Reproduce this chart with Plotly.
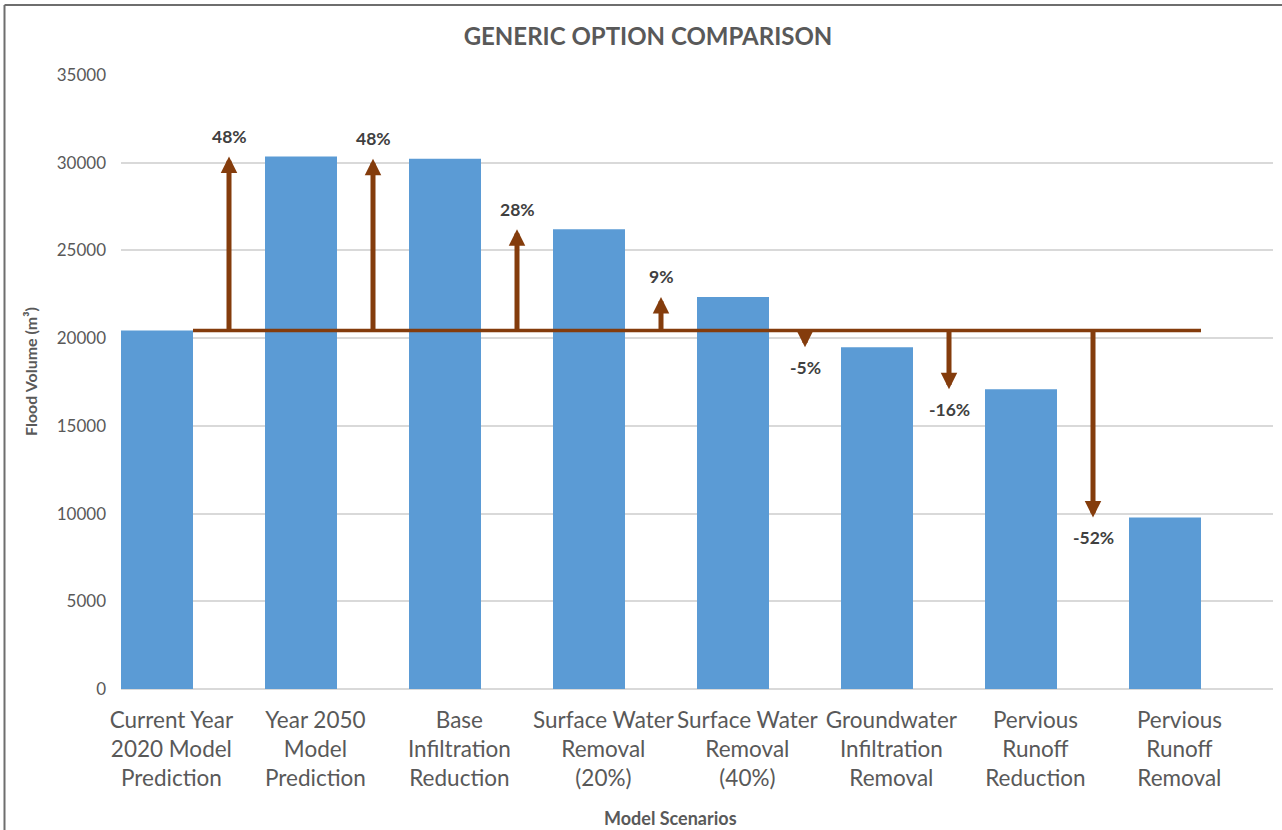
import plotly.graph_objects as go

# ---- data ----
categories = [
    "Current Year<br>2020 Model<br>Prediction",
    "Year 2050<br>Model<br>Prediction",
    "Base<br>Infiltration<br>Reduction",
    "Surface Water<br>Removal<br>(20%)",
    "Surface Water<br>Removal<br>(40%)",
    "Groundwater<br>Infiltration<br>Removal",
    "Pervious<br>Runoff<br>Reduction",
    "Pervious<br>Runoff<br>Removal",
]
flood_volume = [20440, 30350, 30220, 26210, 22350, 19480, 17090, 9780]
change_labels = ["48%", "48%", "28%", "9%", "-5%", "-16%", "-52%"]
y_ticks = [0, 5000, 10000, 15000, 20000, 25000, 30000, 35000]

# ---- style ----
BAR = "#5B9BD5"
BROWN = "#843C0C"
GRID = "#D9D9D9"
TXT = "#595959"
FONT = "Lato"

W, H = 1282, 830
L, R, T, B = 121, 9, 75, 141
PW, PH = W - L - R, H - T - B

n = len(categories)
idx = list(range(n))
baseline = flood_volume[0]

fig = go.Figure()

fig.add_trace(go.Bar(
    x=[i - 0.25 for i in idx], y=flood_volume, width=0.5,
    marker=dict(color=BAR, line=dict(width=0)),
    showlegend=False, hoverinfo="y",
))

# reference (baseline) line
fig.add_trace(go.Scatter(
    x=[0, n - 1], y=[baseline, baseline], mode="lines",
    line=dict(color=BROWN, width=3.5), showlegend=False, hoverinfo="skip",
))

annotations = []
for k, lab in enumerate(change_labels):
    xi = k + 0.25
    target = flood_volume[k + 1]
    annotations.append(dict(
        x=xi, y=target, xref="x", yref="y",
        ax=xi, ay=baseline, axref="x", ayref="y",
        text="", showarrow=True, arrowhead=2, arrowsize=0.66,
        arrowwidth=5, arrowcolor=BROWN, standoff=0,
    ))
    up = target >= baseline
    annotations.append(dict(
        x=xi, y=target, xref="x", yref="y", text="<b>%s</b>" % lab,
        showarrow=False, yshift=20 if up else -20, yanchor="middle",
        font=dict(family=FONT, size=17.5, color="#404040"),
    ))

# axis titles
annotations.append(dict(
    x=(670 - L) / PW, y=(H - B - 818) / PH, xref="paper", yref="paper",
    text="<b>Model Scenarios</b>", showarrow=False, yanchor="middle",
    font=dict(family=FONT, size=18, color=TXT),
))
annotations.append(dict(
    x=(30 - L) / PW, y=(H - B - 372) / PH, xref="paper", yref="paper",
    text="<b>Flood Volume (m³)</b>", showarrow=False, textangle=-90,
    xanchor="center", yanchor="middle",
    font=dict(family=FONT, size=16, color=TXT),
))

shapes = [
    dict(type="line", xref="paper", yref="paper",
         x0=(4.5 - L) / PW, x1=(4.5 - L) / PW, y0=(H - B - 840) / PH, y1=(H - B - 5) / PH,
         line=dict(color="#6E6E6E", width=2)),
    dict(type="line", xref="paper", yref="paper",
         x0=(4.5 - L) / PW, x1=(1295 - L) / PW, y0=(H - B - 5) / PH, y1=(H - B - 5) / PH,
         line=dict(color="#6E6E6E", width=2)),
]

fig.update_layout(
    width=W, height=H,
    margin=dict(l=L, r=R, t=T, b=B, autoexpand=False),
    paper_bgcolor="white", plot_bgcolor="white",
    title=dict(text="<b>GENERIC OPTION COMPARISON</b>", x=648 / W, xref="container",
               xanchor="center", y=1 - 37 / H, yref="container", yanchor="middle",
               font=dict(family=FONT, size=24, color=TXT)),
    annotations=annotations, shapes=shapes,
    font=dict(family=FONT, color=TXT),
)

fig.update_xaxes(
    range=[-0.5, n - 0.5], tickmode="array",
    tickvals=[i - 0.15 for i in idx], ticktext=categories,
    showgrid=False, zeroline=False, showline=False, ticks="",
    tickfont=dict(family=FONT, size=22.5, color=TXT), tickangle=0,
    ticklabelstandoff=15,
)
fig.update_yaxes(
    range=[0, 35000], tickmode="array", tickvals=y_ticks, tickformat="d",
    showgrid=True, gridcolor=GRID, gridwidth=1.5,
    zeroline=True, zerolinecolor=GRID, zerolinewidth=2,
    showline=False, ticks="", ticklabelstandoff=14,
    tickfont=dict(family=FONT, size=17, color=TXT),
)

fig.write_html("out.html")
